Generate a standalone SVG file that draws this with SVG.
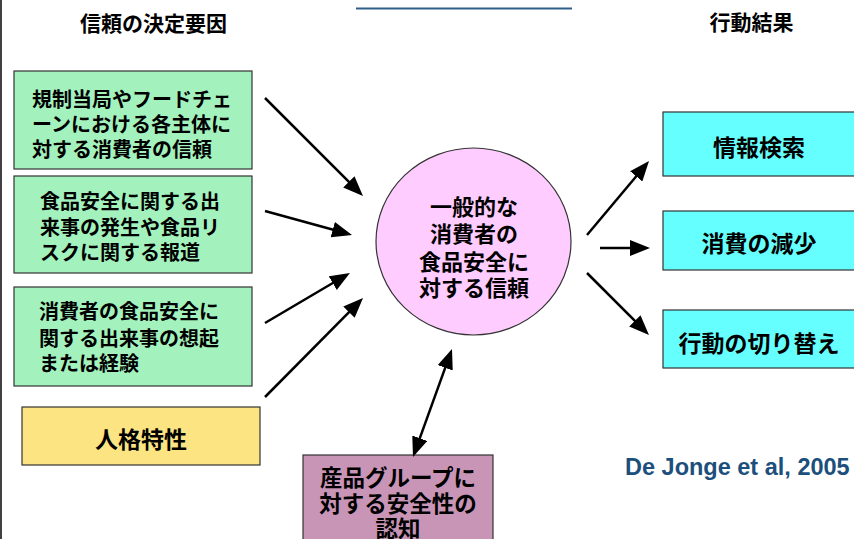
<svg xmlns="http://www.w3.org/2000/svg" width="854" height="539" viewBox="0 0 854 539">
<style>
  text { font-family: "Noto Sans CJK JP", "Noto Sans", sans-serif; font-weight: bold; fill: #000; }
  .hdr { font-size: 21px; text-anchor: middle; }
  .g { font-size: 20px; }
  .c { text-anchor: middle; }
  .box { stroke: #333; stroke-width: 1.2; }
  .green { fill: #a3f2bd; }
  .yellow { fill: #fde483; }
  .cyan { fill: #66ffff; }
  .mauve { fill: #c995b6; }
  .conn line { stroke: #000; stroke-width: 2.5; }
  .cite { font-family: "Liberation Sans", Arial, sans-serif; font-size: 23.5px; fill: #1c4f7c; }
</style>
<defs>
  <marker id="ah" markerUnits="userSpaceOnUse" viewBox="0 0 20 16" markerWidth="20" markerHeight="16" refX="10" refY="8" orient="auto-start-reverse">
    <path d="M0,0 L20,8 L0,16 z" fill="#000"/>
  </marker>
</defs>
<rect width="854" height="539" fill="#fff"/>
<line x1="1" y1="0" x2="1" y2="539" stroke="#000" stroke-width="1.5"/>
<line x1="356" y1="8.5" x2="572" y2="8.5" stroke="#2f5f88" stroke-width="1.8"/>

<g id="header-left"><text class="hdr" x="153.5" y="31">信頼の決定要因</text></g>
<g id="header-right"><text class="hdr" x="751.5" y="30">行動結果</text></g>

<g id="n-regulators">
  <rect class="box green" x="14" y="71" width="238" height="98"/>
  <text class="g"><tspan x="32" y="107">規制当局やフードチェ</tspan><tspan x="32" y="132">ーンにおける各主体に</tspan><tspan x="32" y="157">対する消費者の信頼</tspan></text>
</g>
<g id="n-media">
  <rect class="box green" x="14" y="176" width="238" height="97"/>
  <text class="g"><tspan x="40" y="209">食品安全に関する出</tspan><tspan x="40" y="234.5">来事の発生や食品リ</tspan><tspan x="40" y="260">スクに関する報道</tspan></text>
</g>
<g id="n-experience">
  <rect class="box green" x="14" y="287" width="238" height="99"/>
  <text class="g"><tspan x="39" y="319">消費者の食品安全に</tspan><tspan x="39" y="346">関する出来事の想起</tspan><tspan x="39" y="371">または経験</tspan></text>
</g>
<g id="n-personality">
  <rect class="box yellow" x="22" y="407" width="238" height="58"/>
  <text class="c" x="141" y="448" font-size="23">人格特性</text>
</g>
<g id="n-trust">
  <ellipse cx="473.5" cy="241.5" rx="97.5" ry="93.5" fill="#ffccff" stroke="#333" stroke-width="1.2"/>
  <text class="c" font-size="22"><tspan x="474" y="215">一般的な</tspan><tspan x="474" y="242">消費者の</tspan><tspan x="474" y="270">食品安全に</tspan><tspan x="474" y="296">対する信頼</tspan></text>
</g>
<g id="n-product">
  <rect class="box mauve" x="303" y="455" width="190" height="95"/>
  <text class="c" font-size="22.5"><tspan x="398" y="486">産品グループに</tspan><tspan x="398" y="511.5">対する安全性の</tspan><tspan x="398" y="537">認知</tspan></text>
</g>
<g id="n-search">
  <rect class="box cyan" x="663" y="112" width="195" height="64"/>
  <text class="c" x="759" y="156" font-size="23">情報検索</text>
</g>
<g id="n-reduce">
  <rect class="box cyan" x="663" y="211" width="195" height="59"/>
  <text class="c" x="759" y="252" font-size="23">消費の減少</text>
</g>
<g id="n-switch">
  <rect class="box cyan" x="663" y="310" width="195" height="58"/>
  <text class="c" x="759" y="352" font-size="23">行動の切り替え</text>
</g>

<g id="connectors" class="conn">
  <line x1="265" y1="98" x2="355.9" y2="188.9" marker-end="url(#ah)"/>
  <line x1="265" y1="211" x2="342.4" y2="232.3" marker-end="url(#ah)"/>
  <line x1="265" y1="323" x2="341.3" y2="278" marker-end="url(#ah)"/>
  <line x1="265" y1="397" x2="356" y2="305.1" marker-end="url(#ah)"/>
  <line x1="587" y1="235" x2="642.6" y2="168.7" marker-end="url(#ah)"/>
  <line x1="600" y1="248" x2="640" y2="248" marker-end="url(#ah)"/>
  <line x1="587" y1="273" x2="641.9" y2="327.9" marker-end="url(#ah)"/>
  <line x1="416.4" y1="447.6" x2="448.6" y2="358.4" marker-start="url(#ah)" marker-end="url(#ah)"/>
</g>

<g id="citation"><text class="cite" x="625" y="475">De Jonge et al, 2005</text></g>
</svg>
